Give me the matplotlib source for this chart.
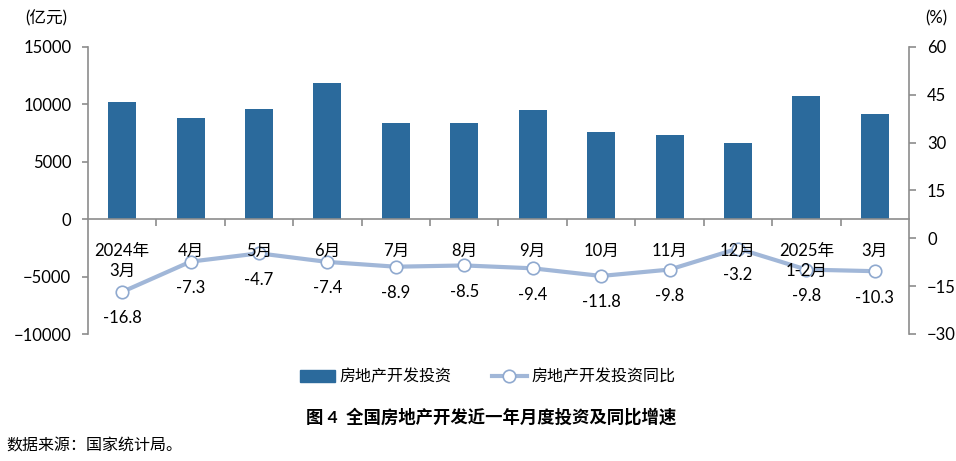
import numpy as np
import matplotlib
matplotlib.use('Agg')
import matplotlib.pyplot as plt
from matplotlib.patches import Patch
from matplotlib.lines import Line2D

plt.rcParams['font.family'] = ['Lato', 'Noto Sans CJK SC', 'DejaVu Sans']

# data
months = ['2024年\n3月', '4月', '5月', '6月', '7月', '8月', '9月', '10月',
          '11月', '12月', '2025年\n1-2月', '3月']
invest = [10250, 8850, 9640, 11830, 8420, 8420, 9470, 7630, 7370, 6670, 10690, 9200]
growth = [-16.8, -7.3, -4.7, -7.4, -8.9, -8.5, -9.4, -11.8, -9.8, -3.2, -9.8, -10.3]

bar_color = '#2b6a9c'
line_color = '#a1b7d8'
spine_color = '#8c8c8c'

fig = plt.figure(figsize=(9.56, 4.61), dpi=100)
ax = fig.add_axes([88/956, 1-334/461, (909-88)/956, (334-47)/461])
ax2 = ax.twinx()

x = np.arange(len(months))
ax.bar(x, invest, width=0.41, color=bar_color, zorder=2)
ax.set_xlim(-0.5, len(months)-0.5)
ax.set_ylim(-10000, 15000)
ax.set_yticks(np.arange(-10000, 15001, 5000))

ax2.plot(x, growth, color=line_color, lw=3, marker='o', ms=9,
         mfc='white', mec='#8fa9cf', mew=1.2)
ax2.set_ylim(-30, 60)
ax2.set_yticks(np.arange(-30, 61, 15))
for xi, v in zip(x, growth):
    ax2.annotate(f'{v:.1f}', (xi, v), xytext=(0, -19), textcoords='offset points',
                 ha='center', va='center', fontsize=12)

# axis styling
ax.set_zorder(2)
ax.patch.set_visible(False)
ax.spines['top'].set_visible(False)
ax.spines['right'].set_visible(False)
ax.spines['bottom'].set_position(('data', 0))
for s in ['left', 'bottom']:
    ax.spines[s].set_color(spine_color)
    ax.spines[s].set_linewidth(1.2)
for s in ['top', 'left', 'bottom']:
    ax2.spines[s].set_visible(False)
ax2.spines['right'].set_color(spine_color)
ax2.spines['right'].set_linewidth(1.2)

ax.set_xticks(x)
ax.set_xticklabels(months, fontsize=12, linespacing=1.3)
ax.set_xticks(np.arange(0.5, len(months)-1, 1), minor=True)
ax.tick_params(axis='x', which='major', length=0, pad=17)
ax.tick_params(axis='x', which='minor', length=5, color=spine_color, width=1.2)
ax.tick_params(axis='y', length=4, color=spine_color, width=1.2, labelsize=12, pad=8)
ax2.tick_params(axis='y', length=5, color=spine_color, width=1.2, labelsize=12, pad=8)

fig.text(25/956, 1-18/461, '(亿元)', fontsize=12, ha='left', va='center')
fig.text(925/956, 1-18/461, '(%)', fontsize=12, ha='left', va='center')

handles = [Patch(color=bar_color),
           Line2D([], [], color=line_color, lw=3, marker='o', ms=9,
                  mfc='white', mec='#8fa9cf', mew=1.2)]
fig.legend(handles, ['房地产开发投资', '房地产开发投资同比'], loc='center',
           bbox_to_anchor=(0.51, 1-377/461), ncol=2, frameon=False,
           fontsize=11.5, handlelength=2.2, columnspacing=2.5, handletextpad=0.3)

fig.text(0.514, 1-417/461, '图 4  全国房地产开发近一年月度投资及同比增速',
         ha='center', va='center', fontsize=12.5, weight='bold')
fig.text(6/956, 1-446/461, '数据来源：国家统计局。', ha='left', va='center', fontsize=11.5)

fig.savefig('out.png', dpi=100)
